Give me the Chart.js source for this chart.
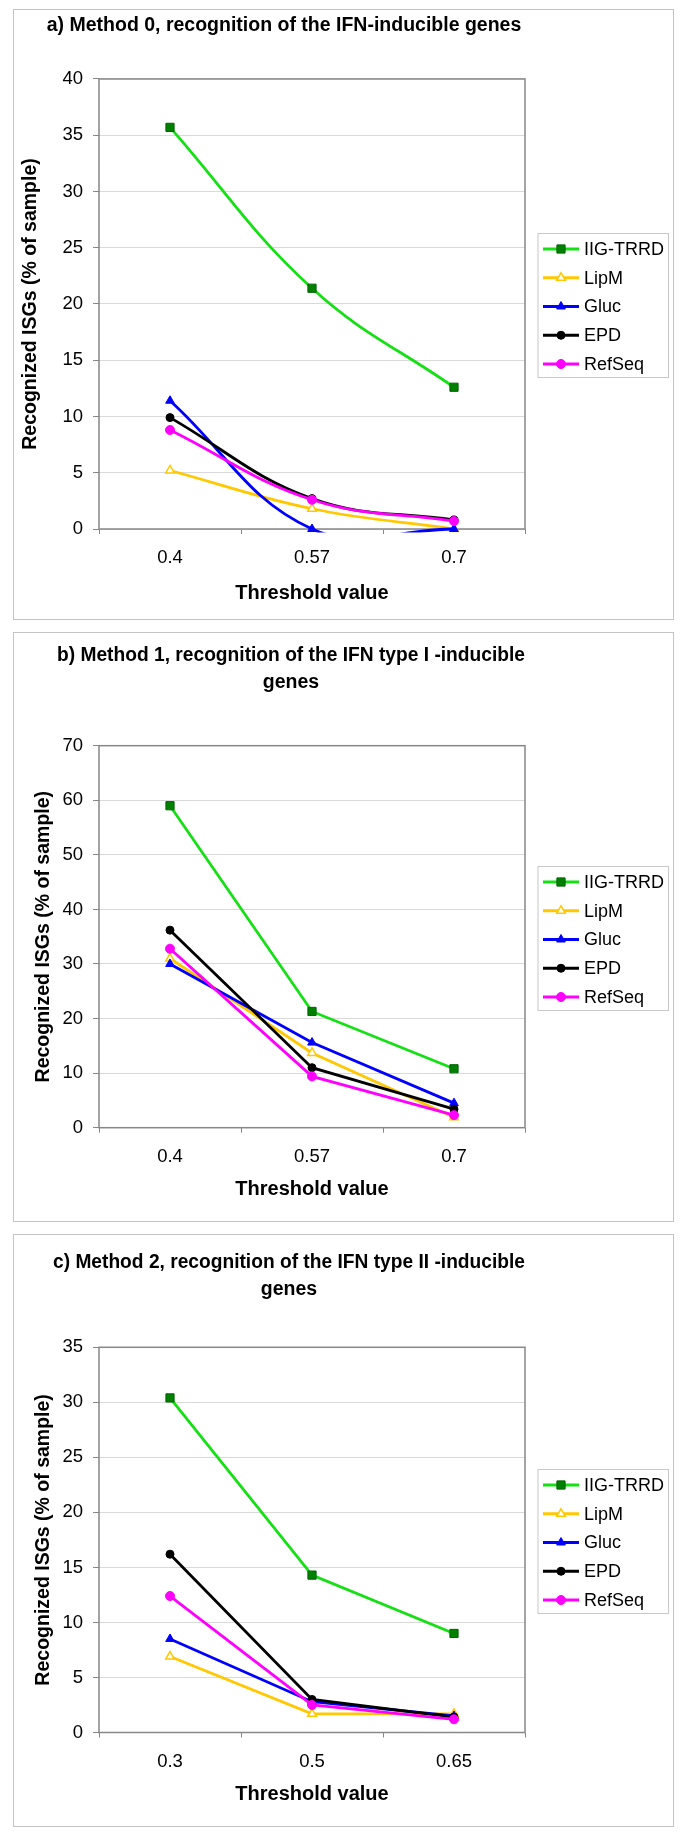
<!DOCTYPE html>
<html><head><meta charset="utf-8">
<script src="https://cdn.jsdelivr.net/npm/chart.js@4.4.1/dist/chart.umd.min.js"></script>
<style>
html,body{margin:0;padding:0;background:#fff;}
body{width:685px;height:1836px;position:relative;overflow:hidden;}
.panel{position:absolute;left:13px;width:661px;border:1px solid #c4c4c4;box-sizing:border-box;background:#fff;}
.panel canvas{position:absolute;left:0;top:0;}
</style></head><body>
<div class="panel" style="top:9px;height:611px;"><canvas id="ca" width="659" height="609"></canvas></div>
<div class="panel" style="top:632px;height:590px;"><canvas id="cb" width="659" height="588"></canvas></div>
<div class="panel" style="top:1234px;height:593px;"><canvas id="cc" width="659" height="591"></canvas></div>
<script>
// ---------- data ----------
const seriesNames = ['IIG-TRRD', 'LipM', 'Gluc', 'EPD', 'RefSeq'];

const titleA = 'a) Method 0, recognition of the IFN-inducible genes';
const titleB = ['b) Method 1, recognition of the IFN type I -inducible', 'genes'];
const titleC = ['c) Method 2, recognition of the IFN type II -inducible', 'genes'];
const yAxisTitle = 'Recognized ISGs (% of sample)';
const xAxisTitle = 'Threshold value';

const thresholdsA = ['0.4', '0.57', '0.7'];
const thresholdsB = ['0.4', '0.57', '0.7'];
const thresholdsC = ['0.3', '0.5', '0.65'];

const yTicksA = [0, 5, 10, 15, 20, 25, 30, 35, 40];
const yTicksB = [0, 10, 20, 30, 40, 50, 60, 70];
const yTicksC = [0, 5, 10, 15, 20, 25, 30, 35];

// panel a
const iigA    = [35.7, 21.4, 12.6];
const lipmA   = [5.2, 1.8, 0.0];
const glucA   = [11.4, 0.0, 0.0];
const epdA    = [9.9, 2.7, 0.8];
const refseqA = [8.8, 2.6, 0.7];
// panel b
const iigB    = [59.0, 21.3, 10.8];
const lipmB   = [31.0, 13.7, 1.9];
const glucB   = [30.0, 15.6, 4.5];
const epdB    = [36.2, 11.0, 3.4];
const refseqB = [32.8, 9.4, 2.3];
// panel c
const iigC    = [30.4, 14.3, 9.0];
const lipmC   = [6.9, 1.7, 1.7];
const glucC   = [8.5, 2.8, 1.5];
const epdC    = [16.2, 3.0, 1.4];
const refseqC = [12.4, 2.5, 1.2];

// ---------- styles ----------
const lineColors   = ['#14e014', '#ffc800', '#0000ff', '#000000', '#ff00ff'];
const markerStyles = ['rect', 'triangle', 'triangle', 'circle', 'circle'];
const markerSizes  = [5.8, 5, 5, 4, 4.5];
const markerFills  = ['#008000', '#ffffff', '#0000ff', '#000000', '#ff00ff'];
const markerEdges  = ['#006400', '#ffc800', '#0000ff', '#000000', '#ff00ff'];
const markerEdgeW  = [1, 1.5, 1, 1, 1];
const FONT = '"Liberation Sans", Arial, Helvetica, sans-serif';

// ---------- plugins ----------
const framePlugin = {
  id: 'frame',
  beforeDatasetsDraw(chart) {
    const {ctx, chartArea: a} = chart;
    ctx.save();
    ctx.strokeStyle = '#878787';
    ctx.lineWidth = 1.5;
    ctx.strokeRect(a.left, a.top, a.right - a.left, a.bottom - a.top);
    ctx.restore();
  }
};

function drawMarker(ctx, style, r, x, y, bw) {
  if (Chart.helpers && Chart.helpers.drawPoint) {
    Chart.helpers.drawPoint(ctx, {pointStyle: style, radius: r, rotation: 0, borderWidth: bw}, x, y);
    return;
  }
  ctx.beginPath();
  if (style === 'rect') { const s = Math.SQRT1_2 * r; ctx.rect(x - s, y - s, 2 * s, 2 * s); }
  else if (style === 'triangle') {
    for (let k = 0; k < 3; k++) { const ang = k * 2 * Math.PI / 3; const px = x + Math.sin(ang) * r, py = y - Math.cos(ang) * r; k ? ctx.lineTo(px, py) : ctx.moveTo(px, py); }
    ctx.closePath();
  } else ctx.arc(x, y, r, 0, 2 * Math.PI);
  ctx.fill(); if (bw > 0) ctx.stroke();
}

const legendPlugin = {
  id: 'boxLegend',
  afterDraw(chart, args, o) {
    const ctx = chart.ctx, a = chart.chartArea;
    const top = Math.round((a.top + a.bottom) / 2 - o.height / 2 + o.shift);
    ctx.save();
    ctx.fillStyle = '#ffffff';
    ctx.fillRect(o.left, top, o.width, o.height);
    ctx.strokeStyle = '#c8c8c8';
    ctx.lineWidth = 1;
    ctx.strokeRect(o.left + 0.5, top + 0.5, o.width, o.height);
    chart.data.datasets.forEach((ds, i) => {
      const y = top + o.first + i * o.step;
      ctx.strokeStyle = ds.borderColor;
      ctx.lineWidth = ds.borderWidth;
      ctx.beginPath(); ctx.moveTo(o.x0, y); ctx.lineTo(o.x1, y); ctx.stroke();
      ctx.fillStyle = ds.pointBackgroundColor;
      ctx.strokeStyle = ds.pointBorderColor;
      ctx.lineWidth = ds.pointBorderWidth;
      drawMarker(ctx, ds.pointStyle, ds.pointRadius, (o.x0 + o.x1) / 2, y, ds.pointBorderWidth);
      ctx.fillStyle = '#000000';
      ctx.font = '18px ' + FONT;
      ctx.textAlign = 'left';
      ctx.textBaseline = 'middle';
      ctx.fillText(ds.label, o.textX, y + 1);
    });
    ctx.restore();
  }
};

// ---------- chart builder ----------
function makeChart(id, cfg) {
  const datasets = seriesNames.map((name, i) => ({
    label: name,
    data: cfg.values[i],
    borderColor: lineColors[i],
    backgroundColor: lineColors[i],
    borderWidth: 2.8,
    pointStyle: markerStyles[i],
    pointRadius: markerSizes[i],
    pointHoverRadius: markerSizes[i],
    pointBackgroundColor: markerFills[i],
    pointBorderColor: markerEdges[i],
    pointBorderWidth: markerEdgeW[i],
    tension: cfg.tension,
    fill: false,
    order: 4 - i,
    clip: {left: 10, top: 10, right: 10, bottom: 3.5}
  }));
  const ticks = cfg.yTicks;
  return new Chart(document.getElementById(id), {
    type: 'line',
    data: {labels: cfg.labels, datasets},
    options: {
      responsive: false,
      animation: false,
      devicePixelRatio: 1,
      events: [],
      layout: {padding: {left: cfg.L, right: 148, top: 0, bottom: 0}},
      elements: {line: {capBezierPoints: false}},
      plugins: {
        legend: {display: false},
        tooltip: {enabled: false},
        title: {
          display: true,
          text: cfg.title,
          color: '#000',
          align: 'center',
          font: {family: FONT, size: 19.5, weight: 'bold', lineHeight: 1.374},
          padding: {top: cfg.tTop, bottom: cfg.tBottom}
        },
        boxLegend: {left: 523.5, width: 130.5, height: 144, shift: 1.5, first: 16, step: 28.75, x0: 529, x1: 565, textX: 570}
      },
      scales: {
        x: {
          type: 'category',
          offset: true,
          grid: {display: true, drawOnChartArea: false, drawTicks: true, tickLength: 5, offset: true, tickColor: '#878787', color: '#878787'},
          border: {display: false},
          ticks: {color: '#000', font: {family: FONT, size: 18.5}, padding: 13, maxRotation: 0, autoSkip: false},
          title: {display: true, text: xAxisTitle, color: '#000', font: {family: FONT, size: 20, weight: 'bold', lineHeight: 1.2}, padding: {top: 0, bottom: cfg.xTitlePad}},
          afterFit: (s) => { s.height = cfg.xH; }
        },
        y: {
          min: ticks[0],
          max: ticks[ticks.length - 1],
          afterBuildTicks: (s) => { s.ticks = ticks.map(v => ({value: v})); },
          grid: {display: true, drawOnChartArea: true, drawTicks: true, tickLength: 6, color: '#d9d9d9', tickColor: '#878787', lineWidth: 1},
          border: {display: false},
          ticks: {color: '#000', font: {family: FONT, size: 18.5}, padding: 10},
          title: {display: true, text: yAxisTitle, color: '#000', font: {family: FONT, size: 19.5, weight: 'bold', lineHeight: 1.2}, padding: {top: cfg.yTitlePad, bottom: 0}},
          afterFit: (s) => { s.width = 85 - cfg.L; }
        }
      }
    },
    plugins: [framePlugin, legendPlugin]
  });
}

makeChart('ca', {
  title: titleA, labels: thresholdsA, yTicks: yTicksA, tension: 0.4,
  values: [iigA, lipmA, glucA, epdA, refseqA],
  L: 29, tTop: 2.6, tBottom: 39.6, xH: 90, xTitlePad: 14, yTitlePad: -23.7
});
makeChart('cb', {
  title: titleB, labels: thresholdsB, yTicks: yTicksB, tension: 0,
  values: [iigB, lipmB, glucB, epdB, refseqB],
  L: 43, tTop: 9.2, tBottom: 49.9, xH: 93.3, xTitlePad: 20, yTitlePad: -24.7
});
makeChart('cc', {
  title: titleC, labels: thresholdsC, yTicks: yTicksC, tension: 0,
  values: [iigC, lipmC, glucC, epdC, refseqC],
  L: 39, tTop: 14, tBottom: 44.7, xH: 93.5, xTitlePad: 20, yTitlePad: -20.7
});
</script>
</body></html>
